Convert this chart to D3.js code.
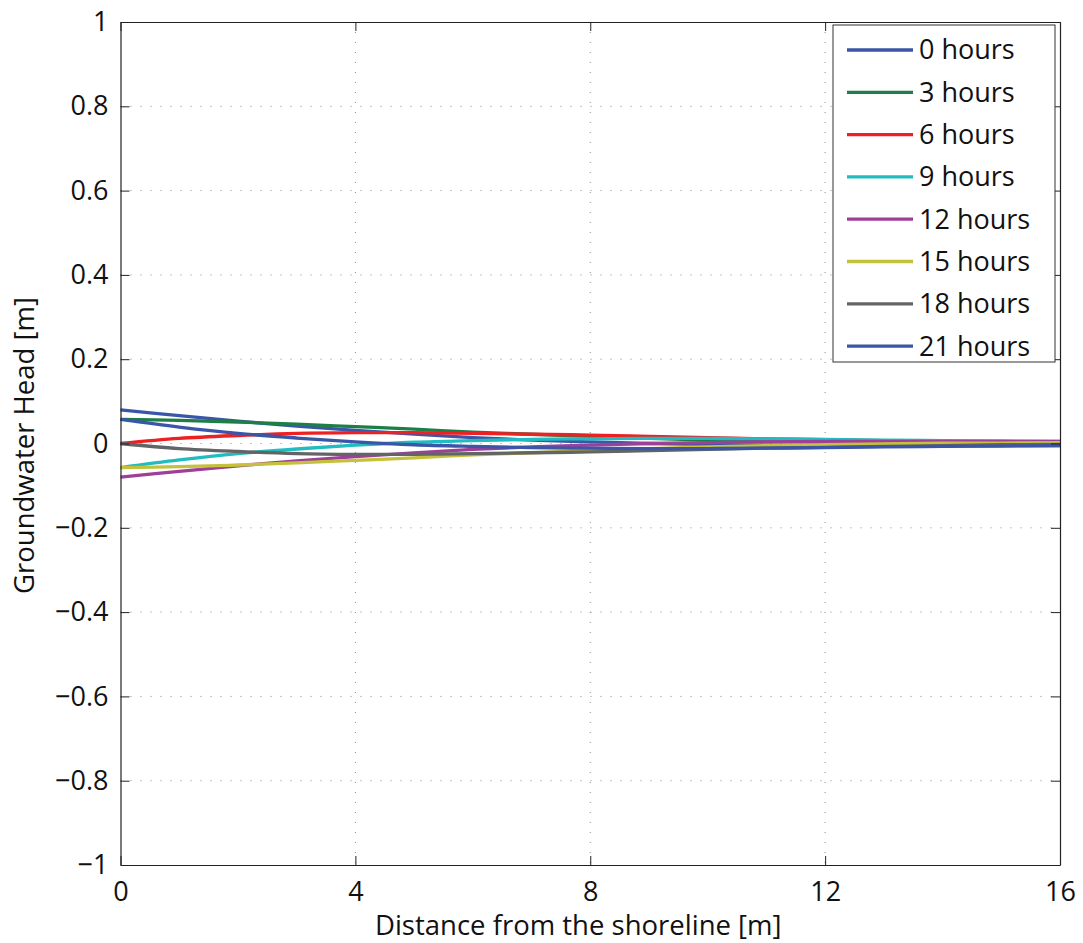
<!DOCTYPE html>
<html>
<head>
<meta charset="utf-8">
<script src="https://cdn.jsdelivr.net/npm/d3@7"></script>
<style>
  body { margin: 0; background: #fff; }
  text { font-family: "Open Sans", sans-serif; fill: #111; }
</style>
</head>
<body>
<svg id="chart" width="1083" height="943"></svg>
<script>
// distance from the shoreline [m]
const distance = [0, 1, 2, 3, 4, 5, 6, 7, 8, 9, 10, 11, 12, 13, 14, 15, 16];

// groundwater head [m]
const head0h  = [0.080, 0.066, 0.053, 0.041, 0.031, 0.022, 0.014, 0.008, 0.004, 0.000, -0.002, -0.004, -0.005, -0.005, -0.005, -0.005, -0.005];
const head3h  = [0.057, 0.055, 0.051, 0.046, 0.040, 0.034, 0.027, 0.022, 0.017, 0.012, 0.008, 0.005, 0.003, 0.001, -0.001, -0.001, -0.002];
const head6h  = [0.000, 0.012, 0.019, 0.024, 0.026, 0.026, 0.024, 0.022, 0.020, 0.017, 0.014, 0.011, 0.009, 0.007, 0.005, 0.003, 0.002];
const head9h  = [-0.057, -0.039, -0.024, -0.013, -0.004, 0.003, 0.007, 0.010, 0.011, 0.012, 0.012, 0.011, 0.010, 0.008, 0.007, 0.006, 0.005];
const head12h = [-0.080, -0.066, -0.053, -0.041, -0.031, -0.022, -0.014, -0.008, -0.004, 0.000, 0.002, 0.004, 0.005, 0.005, 0.005, 0.005, 0.005];
const head15h = [-0.057, -0.055, -0.051, -0.046, -0.040, -0.034, -0.027, -0.022, -0.017, -0.012, -0.008, -0.005, -0.003, -0.001, 0.001, 0.001, 0.002];
const head18h = [0.000, -0.012, -0.019, -0.024, -0.026, -0.026, -0.024, -0.022, -0.020, -0.017, -0.014, -0.011, -0.009, -0.007, -0.005, -0.003, -0.002];
const head21h = [0.057, 0.039, 0.024, 0.013, 0.004, -0.003, -0.007, -0.010, -0.011, -0.012, -0.012, -0.011, -0.010, -0.008, -0.007, -0.006, -0.005];

const seriesNames = ["0 hours", "3 hours", "6 hours", "9 hours", "12 hours", "15 hours", "18 hours", "21 hours"];
const seriesValues = [head0h, head3h, head6h, head9h, head12h, head15h, head18h, head21h];
const seriesColors = ["#3b56a6", "#1d7f45", "#ed2024", "#22bcc0", "#9e3f98", "#c4c23a", "#636466", "#3b56a6"];

const xTicks = [0, 4, 8, 12, 16];
const yTicks = [-1, -0.8, -0.6, -0.4, -0.2, 0, 0.2, 0.4, 0.6, 0.8, 1];

const margin = {top: 22, right: 23, bottom: 78, left: 120.5};
const width = 1083, height = 943;
const plotW = width - margin.left - margin.right;
const plotH = height - margin.top - margin.bottom;

const svg = d3.select("#chart");
const g = svg.append("g").attr("transform", "translate(" + margin.left + "," + margin.top + ")");

const x = d3.scaleLinear().domain([0, 16]).range([0, plotW]);
const y = d3.scaleLinear().domain([-1, 1]).range([plotH, 0]);

// dotted grid
g.append("g").selectAll("line")
  .data(xTicks.slice(1, -1))
  .enter().append("line")
  .attr("x1", d => x(d)).attr("x2", d => x(d))
  .attr("y1", 0).attr("y2", plotH)
  .attr("stroke", "#8a8a8a").attr("stroke-width", 1)
  .attr("stroke-dasharray", "1,9");

g.append("g").selectAll("line")
  .data(yTicks.slice(1, -1))
  .enter().append("line")
  .attr("x1", 0).attr("x2", plotW)
  .attr("y1", d => y(d)).attr("y2", d => y(d))
  .attr("stroke", "#8a8a8a").attr("stroke-width", 1)
  .attr("stroke-dasharray", "1,9");

// lines
const line = d3.line()
  .curve(d3.curveCatmullRom)
  .x((d, i) => x(distance[i]))
  .y(d => y(d));

g.append("g").selectAll("path")
  .data(seriesValues)
  .enter().append("path")
  .attr("d", line)
  .attr("fill", "none")
  .attr("stroke", (d, i) => seriesColors[i])
  .attr("stroke-width", 3.3);

// axes, ticks inside on all four sides
const fmt = d => d < 0 ? "\u2212" + d3.format("")(-d) : d3.format("")(d);

const xAxis = g.append("g")
  .attr("transform", "translate(0," + plotH + ")")
  .call(d3.axisBottom(x).tickValues(xTicks).tickSizeInner(-9).tickSizeOuter(0).tickPadding(13));
const xAxisTop = g.append("g")
  .call(d3.axisTop(x).tickValues(xTicks).tickSizeInner(-9).tickSizeOuter(0).tickFormat(""));
const yAxis = g.append("g")
  .call(d3.axisLeft(y).tickValues(yTicks).tickSizeInner(-9).tickSizeOuter(0).tickPadding(12).tickFormat(fmt));
const yAxisRight = g.append("g")
  .attr("transform", "translate(" + plotW + ",0)")
  .call(d3.axisRight(y).tickValues(yTicks).tickSizeInner(-9).tickSizeOuter(0).tickFormat(""));

[xAxis, xAxisTop, yAxis, yAxisRight].forEach(a => {
  a.select(".domain").attr("stroke", "#222").attr("stroke-width", 1.2);
  a.selectAll(".tick line").attr("stroke", "#222");
  a.selectAll("text").style("font-size", "27px").attr("fill", "#111");
});
xAxis.selectAll("text").attr("dy", "0.85em");

// axis labels
svg.append("text")
  .attr("x", margin.left + plotW / 2 - 12)
  .attr("y", 935)
  .attr("text-anchor", "middle")
  .style("font-size", "27.5px")
  .text("Distance from the shoreline [m]");

svg.append("text")
  .attr("transform", "translate(34," + (margin.top + plotH / 2 + 2) + ") rotate(-90)")
  .attr("text-anchor", "middle")
  .style("font-size", "27.5px")
  .text("Groundwater Head [m]");

// legend
const legend = svg.append("g");
legend.append("rect")
  .attr("x", 833).attr("y", 25)
  .attr("width", 222).attr("height", 337)
  .attr("fill", "#fff").attr("stroke", "#333").attr("stroke-width", 1);

const items = legend.selectAll(".item")
  .data(seriesNames)
  .enter().append("g")
  .attr("class", "item")
  .attr("transform", (d, i) => "translate(0," + (50 + i * 42.3) + ")");

items.append("line")
  .attr("x1", 847).attr("x2", 913)
  .attr("y1", 0).attr("y2", 0)
  .attr("stroke", (d, i) => seriesColors[i])
  .attr("stroke-width", 3.3);

items.append("text")
  .attr("x", 919).attr("y", 0)
  .attr("dy", "0.35em")
  .style("font-size", "27px")
  .text(d => d);
</script>
</body>
</html>
